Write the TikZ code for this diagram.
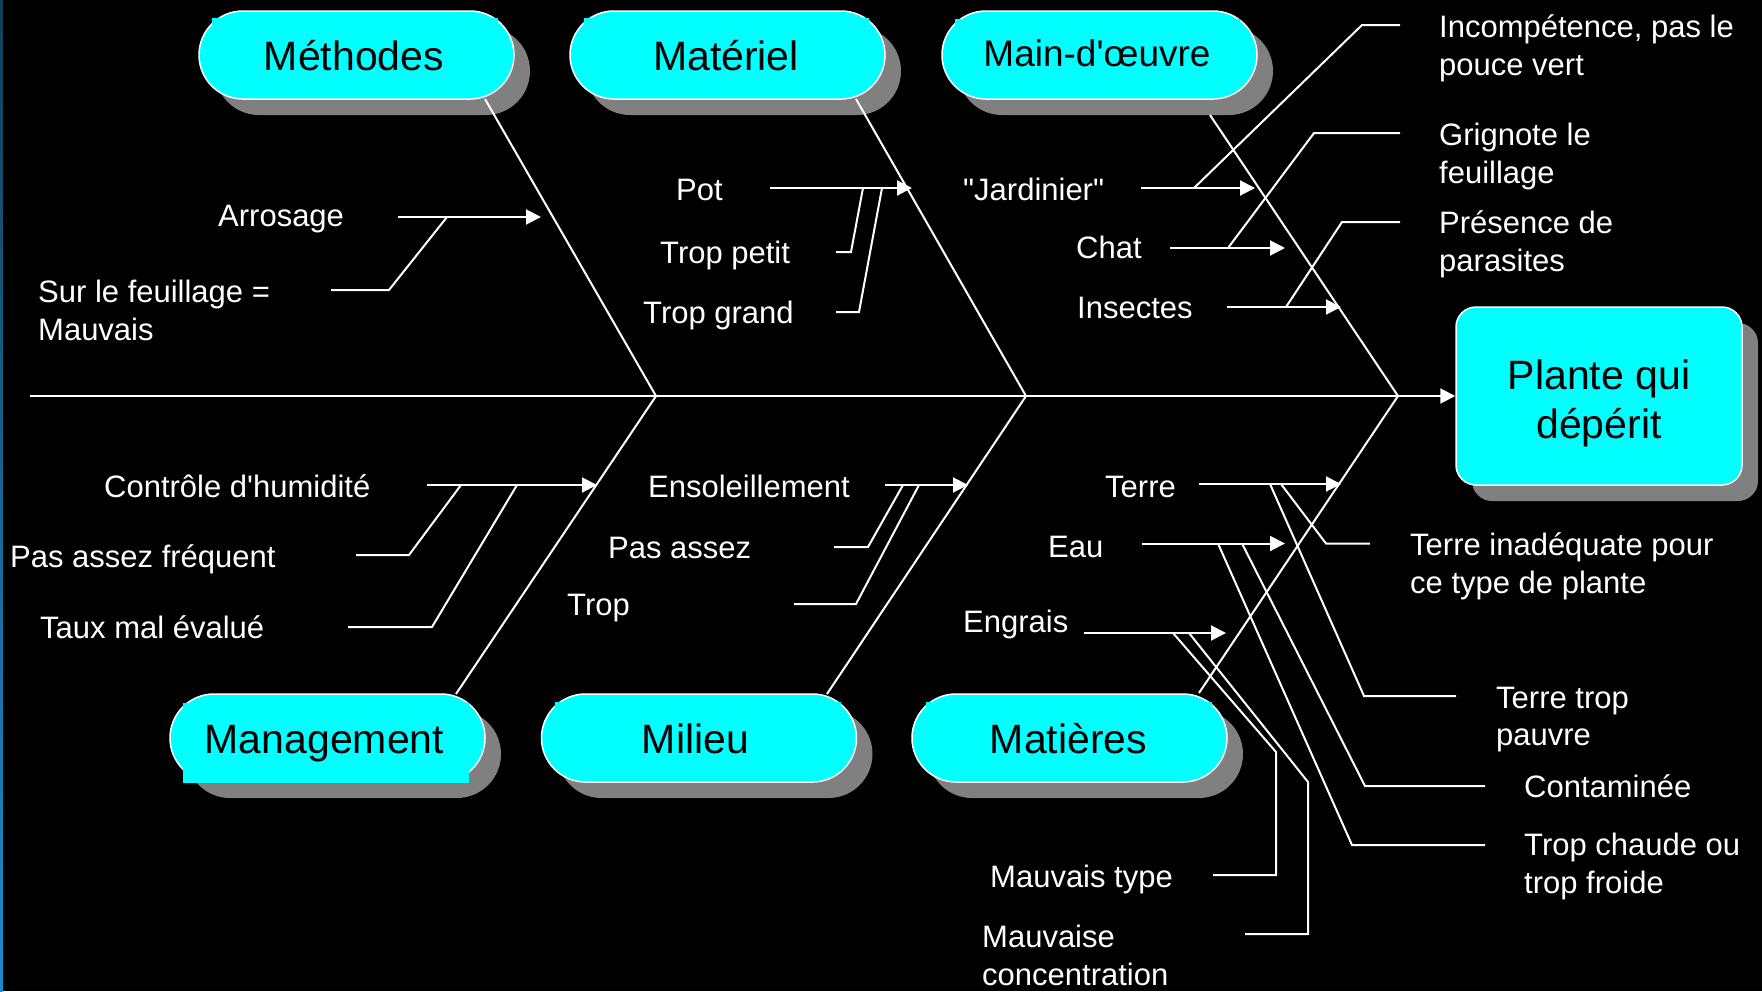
\documentclass[tikz,border=0pt]{standalone}
\usepackage{fontspec}
\newfontfamily\lsans{Liberation Sans}
\usetikzlibrary{arrows.meta,shapes.misc,shadows}
\definecolor{cyanfill}{HTML}{00FFFF}
\definecolor{shadgray}{HTML}{808080}
\definecolor{stripetop}{HTML}{123F5A}
\definecolor{stripebot}{HTML}{1A8CCB}
\newcommand\mlines[1]{\begin{tabular}[b]{@{}l@{}}#1\end{tabular}}
\begin{document}
\begin{tikzpicture}[x=1pt,y=-1pt,
  lab/.style={text=white, font=\lsans\fontsize{31}{37.5}\selectfont, anchor=base west, inner sep=0pt},
  cat/.style={text=black, font=\lsans\fontsize{41}{49}\selectfont, anchor=base, inner sep=0pt},
  pill/.style={shape=rounded rectangle, minimum width=315pt, minimum height=88pt, inner sep=0pt,
    fill=cyanfill, draw=white, line width=1.5pt,
    drop shadow={fill=shadgray, opacity=1, shadow xshift=16pt, shadow yshift=-16pt}},
  effbox/.style={shape=rectangle, rounded corners=20pt, minimum width=286pt, minimum height=178pt, inner sep=0pt,
    fill=cyanfill, draw=white, line width=1.5pt,
    drop shadow={fill=shadgray, opacity=1, shadow xshift=16pt, shadow yshift=-16pt}},
  frame/.style={fill=cyanfill, draw=none},
  wire/.style={draw=white, line width=2pt},
  arr/.style={wire, -{Triangle[length=15pt,width=15pt]}},
]
\useasboundingbox (0,0) rectangle (1762,991);
\fill[black] (0,0) rectangle (1762,991);
\shade[top color=stripetop, bottom color=stripebot] (0,0) rectangle (2.5,991);

% category pills and effect box
\node[pill] (meth) at (356.5,55) {};
\node[pill] (mat) at (727.5,55) {};
\node[pill] (main) at (1099.5,55) {};
\node[pill] (man) at (327.5,738) {};
\node[pill] (mil) at (699,738) {};
\node[pill] (mtr) at (1069.5,738) {};
\node[effbox] (eff) at (1599,396) {};

% text frames poking out of the pills
\fill[frame] (212,18) rectangle (498,80);
\fill[frame] (584,18) rectangle (869,80);
\fill[frame] (955,19) rectangle (1240,80);
\fill[frame] (183,703) rectangle (469,783);
\fill[frame] (555,702) rectangle (841,765);
\fill[frame] (926,702) rectangle (1212,765);

% spine and bones
\coordinate (tail) at (30,396);
\coordinate (j1) at (656,396);
\coordinate (j2) at (1026,396);
\coordinate (j3) at (1398,396);
\coordinate (bMeth) at (485,99);
\coordinate (bMat) at (856,99);
\coordinate (bMain) at (1210,115);
\coordinate (bMan) at (456,694);
\coordinate (bMil) at (827,694);
\coordinate (bMtr) at (1199,693);
\draw[arr] (tail) -- (eff.west);
\draw[wire] (bMeth) -- (j1) -- (bMan);
\draw[wire] (bMat) -- (j2) -- (bMil);
\draw[wire] (bMain) -- (j3) -- (bMtr);

% cause arrows
\coordinate (arrS) at (398,217);  \coordinate (arrT) at (541,217);
\coordinate (potS) at (770,188);  \coordinate (potT) at (912,188);
\coordinate (jarS) at (1141,188); \coordinate (jarT) at (1255,188);
\coordinate (chaS) at (1170,248); \coordinate (chaT) at (1285,248);
\coordinate (insS) at (1227,307); \coordinate (insT) at (1341,307);
\coordinate (conS) at (427,485);  \coordinate (conT) at (597,485);
\coordinate (ensS) at (885,485);  \coordinate (ensT) at (968,485);
\coordinate (terS) at (1199,484); \coordinate (terT) at (1341,484);
\coordinate (eauS) at (1142,543.5); \coordinate (eauT) at (1285,543.5);
\coordinate (engS) at (1084,633); \coordinate (engT) at (1226,633);
\foreach \a in {arr,pot,jar,cha,ins,con,ens,ter,eau,eng}
  \draw[arr] (\a S) -- (\a T);

% sub-cause connectors
\coordinate (sf0) at (331,290); \coordinate (sf1) at (389,290); \coordinate (sf2) at (447,217);
\draw[wire] (sf0) -- (sf1) -- (sf2);
\coordinate (tp0) at (836,252); \coordinate (tp1) at (851,252); \coordinate (tp2) at (863,188);
\draw[wire] (tp0) -- (tp1) -- (tp2);
\coordinate (tg0) at (836,312); \coordinate (tg1) at (859,312); \coordinate (tg2) at (882,188);
\draw[wire] (tg0) -- (tg1) -- (tg2);
\coordinate (ic0) at (1400,25); \coordinate (ic1) at (1362,25); \coordinate (ic2) at (1194,188);
\draw[wire] (ic0) -- (ic1) -- (ic2);
\coordinate (gr0) at (1400,133); \coordinate (gr1) at (1314,133); \coordinate (gr2) at (1228,248);
\draw[wire] (gr0) -- (gr1) -- (gr2);
\coordinate (pr0) at (1400,222); \coordinate (pr1) at (1342,222); \coordinate (pr2) at (1286,307);
\draw[wire] (pr0) -- (pr1) -- (pr2);
\coordinate (pf0) at (356,555); \coordinate (pf1) at (409,555); \coordinate (pf2) at (461,485);
\draw[wire] (pf0) -- (pf1) -- (pf2);
\coordinate (tm0) at (348,627); \coordinate (tm1) at (432,627); \coordinate (tm2) at (517,485);
\draw[wire] (tm0) -- (tm1) -- (tm2);
\coordinate (pa0) at (834,547); \coordinate (pa1) at (868,547); \coordinate (pa2) at (903,485);
\draw[wire] (pa0) -- (pa1) -- (pa2);
\coordinate (tr0) at (794,604); \coordinate (tr1) at (856,604); \coordinate (tr2) at (919,485);
\draw[wire] (tr0) -- (tr1) -- (tr2);
\coordinate (ti0) at (1370,543.5); \coordinate (ti1) at (1326,543.5); \coordinate (ti2) at (1281,484);
\draw[wire] (ti0) -- (ti1) -- (ti2);
\coordinate (tt0) at (1456,696); \coordinate (tt1) at (1364,696); \coordinate (tt2) at (1270,484);
\draw[wire] (tt0) -- (tt1) -- (tt2);
\coordinate (ct0) at (1485,786); \coordinate (ct1) at (1365,786); \coordinate (ct2) at (1242,543.5);
\draw[wire] (ct0) -- (ct1) -- (ct2);
\coordinate (tc0) at (1485,845); \coordinate (tc1) at (1352,845); \coordinate (tc2) at (1218,543.5);
\draw[wire] (tc0) -- (tc1) -- (tc2);
\coordinate (mt0) at (1213,875); \coordinate (mt1) at (1276,875); \coordinate (mt2) at (1276,752); \coordinate (mt3) at (1173,633);
\draw[wire] (mt0) -- (mt1) -- (mt2) -- (mt3);
\coordinate (mc0) at (1245,934); \coordinate (mc1) at (1308,934); \coordinate (mc2) at (1308,782); \coordinate (mc3) at (1189,633);
\draw[wire] (mc0) -- (mc1) -- (mc2) -- (mc3);

% category texts
\node[cat] (methT) at (354,70.5) {Méthodes};
\node[cat] (matT) at (726,70.5) {Matériel};
\node[cat, font=\lsans\fontsize{37}{44}\selectfont] (mainT) at (1097,66.5) {Main-d'œuvre};
\node[cat] (manT) at (324.5,753) {Management};
\node[cat] (milT) at (695.5,753) {Milieu};
\node[cat] (mtrT) at (1068.5,753) {Matières};
\node[cat, font=\lsans\fontsize{41}{49}\selectfont] (effT) at (1599,438) {\begin{tabular}[b]{@{}c@{}}Plante qui\\dépérit\end{tabular}};

% labels
\node[lab] (lArr) at (218,226) {Arrosage};
\node[lab] (lSur) at (38,340) {\mlines{Sur le feuillage =\\Mauvais}};
\node[lab] (lPot) at (676,200) {Pot};
\node[lab] (lTp) at (660,263) {Trop petit};
\node[lab] (lTg) at (643,323) {Trop grand};
\node[lab] (lJar) at (963,200) {"Jardinier"};
\node[lab] (lCha) at (1076,258) {Chat};
\node[lab] (lIns) at (1077,318) {Insectes};
\node[lab] (lInc) at (1439,75) {\mlines{Incompétence, pas le\\pouce vert}};
\node[lab] (lGri) at (1439,183) {\mlines{Grignote le\\feuillage}};
\node[lab] (lPre) at (1439,271) {\mlines{Présence de\\parasites}};
\node[lab] (lCon) at (104,497) {Contrôle d'humidité};
\node[lab] (lPaf) at (10,567) {Pas assez fréquent};
\node[lab] (lTau) at (40,638) {Taux mal évalué};
\node[lab] (lEns) at (648,497) {Ensoleillement};
\node[lab] (lPas) at (608,558) {Pas assez};
\node[lab] (lTro) at (567,615) {Trop};
\node[lab] (lTer) at (1105,497) {Terre};
\node[lab] (lEau) at (1048,557) {Eau};
\node[lab] (lEng) at (963,632) {Engrais};
\node[lab] (lTin) at (1410,593) {\mlines{Terre inadéquate pour\\ce type de plante}};
\node[lab] (lTtp) at (1496,745.5) {\mlines{Terre trop\\pauvre}};
\node[lab] (lCtm) at (1524,797) {Contaminée};
\node[lab] (lTch) at (1524,893) {\mlines{Trop chaude ou\\trop froide}};
\node[lab] (lMty) at (990,887) {Mauvais type};
\node[lab] (lMco) at (982,985) {\mlines{Mauvaise\\concentration}};
\end{tikzpicture}
\end{document}
